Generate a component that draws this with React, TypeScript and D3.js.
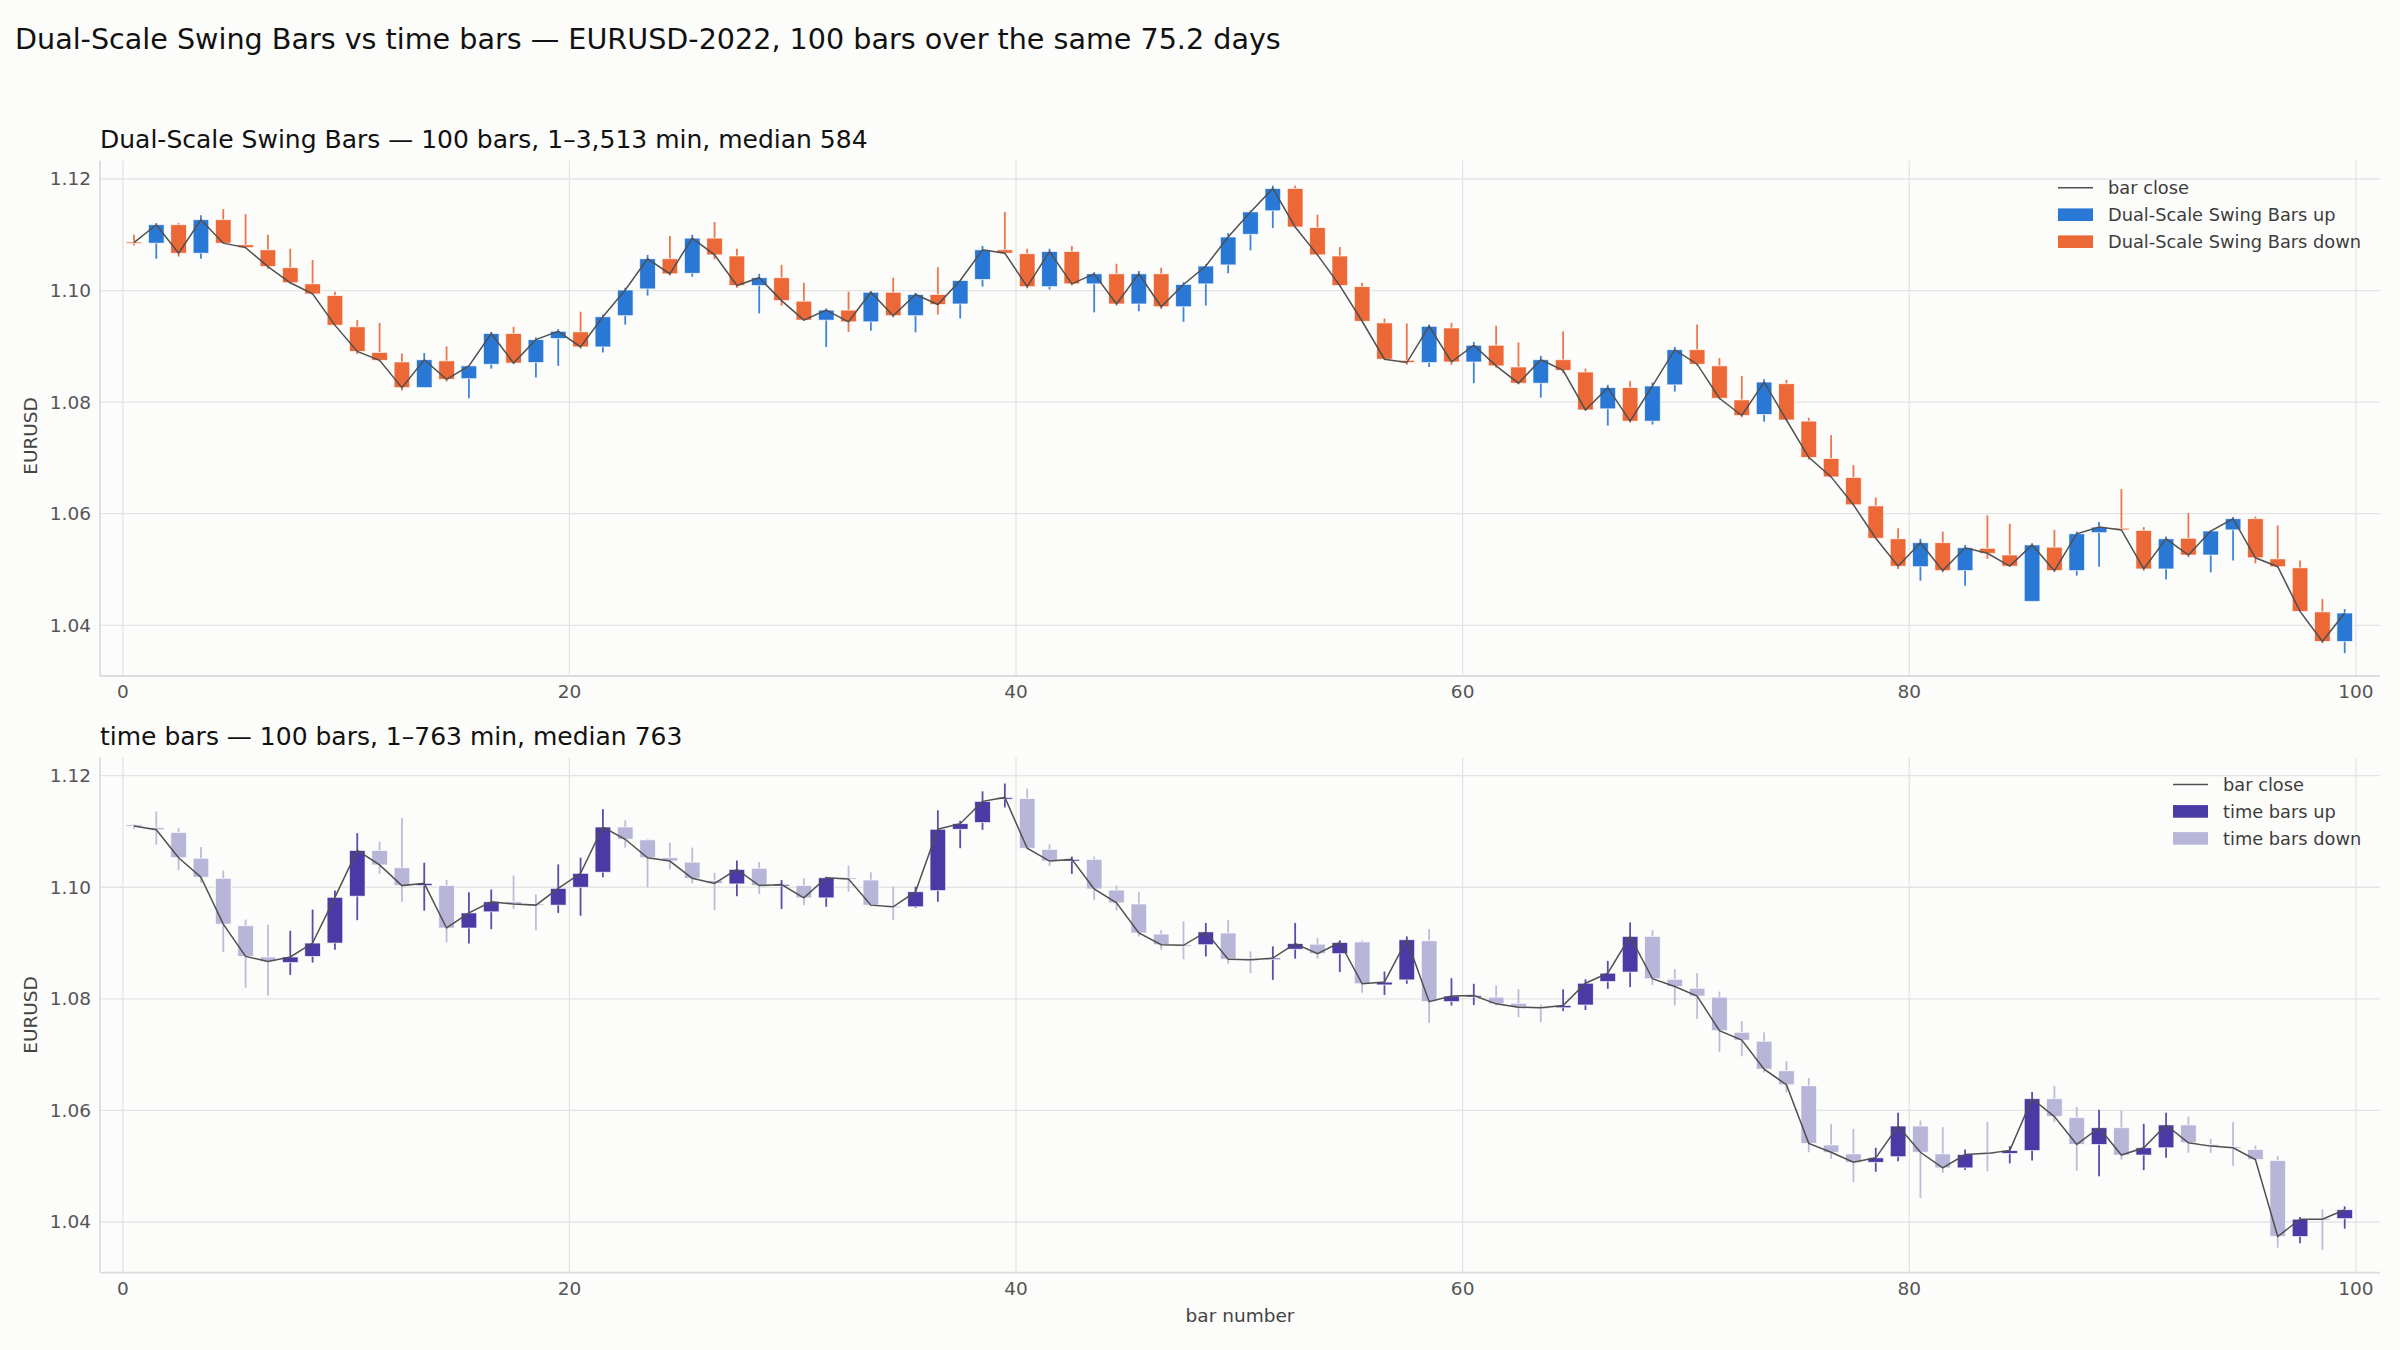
// App.tsx
// Dual-Scale Swing Bars vs time bars, two candlestick panels drawn with d3 scales
import React from "react"
import * as d3 from "d3"

// ---- data: Dual-Scale Swing Bars (100 bars) ----
const dssbOpen = [
    1.1087, 1.1085, 1.1118, 1.1067, 1.1127, 1.1082, 1.1073, 1.1041, 1.1012, 1.0991,
    1.0935, 1.0889, 1.0872, 1.0826, 1.0874, 1.0842, 1.0868, 1.0923, 1.0871, 1.0914,
    1.0926, 1.0899, 1.0955, 1.1003, 1.1057, 1.1031, 1.1094, 1.1062, 1.1009, 1.1023,
    1.0981, 1.0947, 1.0965, 1.0944, 1.0997, 1.0955, 1.0993, 1.0976, 1.1020, 1.1073,
    1.1066, 1.1007, 1.1070, 1.1012, 1.1030, 1.0976, 1.1030, 1.0971, 1.1012, 1.1046,
    1.1101, 1.1143, 1.1183, 1.1113, 1.1062, 1.1007, 1.0942, 1.0875, 1.0871, 1.0933,
    1.0872, 1.0902, 1.0863, 1.0834, 1.0876, 1.0854, 1.0788, 1.0826, 1.0766, 1.0831,
    1.0894, 1.0865, 1.0804, 1.0778, 1.0833, 1.0766, 1.0699, 1.0665, 1.0614, 1.0555,
    1.0505, 1.0548, 1.0498, 1.0538, 1.0526, 1.0443, 1.0540, 1.0498, 1.0566, 1.0574,
    1.0570, 1.0501, 1.0556, 1.0526, 1.0571, 1.0591, 1.0519, 1.0503, 1.0424, 1.0371,
]
const dssbHigh = [
    1.1100, 1.1121, 1.1121, 1.1135, 1.1146, 1.1137, 1.1100, 1.1075, 1.1055, 1.0998,
    1.0947, 1.0942, 1.0887, 1.0888, 1.0900, 1.0866, 1.0926, 1.0935, 1.0916, 1.0931,
    1.0962, 1.0957, 1.1005, 1.1064, 1.1098, 1.1100, 1.1123, 1.1075, 1.1030, 1.1046,
    1.1014, 1.0968, 1.0998, 1.0999, 1.1023, 1.0996, 1.1042, 1.1019, 1.1080, 1.1141,
    1.1075, 1.1075, 1.1080, 1.1033, 1.1048, 1.1035, 1.1041, 1.1015, 1.1047, 1.1103,
    1.1144, 1.1188, 1.1188, 1.1136, 1.1078, 1.1014, 1.0950, 1.0941, 1.0939, 1.0942,
    1.0908, 1.0937, 1.0907, 1.0883, 1.0927, 1.0860, 1.0831, 1.0838, 1.0835, 1.0899,
    1.0939, 1.0879, 1.0847, 1.0841, 1.0840, 1.0772, 1.0741, 1.0687, 1.0629, 1.0574,
    1.0555, 1.0568, 1.0544, 1.0597, 1.0582, 1.0547, 1.0571, 1.0568, 1.0585, 1.0644,
    1.0576, 1.0559, 1.0601, 1.0571, 1.0594, 1.0595, 1.0579, 1.0516, 1.0447, 1.0429,
]
const dssbLow = [
    1.1081, 1.1057, 1.1061, 1.1057, 1.1084, 1.1076, 1.1039, 1.1012, 1.0993, 1.0936,
    1.0886, 1.0873, 1.0821, 1.0826, 1.0837, 1.0807, 1.0860, 1.0868, 1.0844, 1.0865,
    1.0896, 1.0889, 1.0939, 1.0991, 1.1027, 1.1025, 1.1056, 1.1005, 1.0959, 1.0973,
    1.0946, 1.0899, 1.0926, 1.0928, 1.0952, 1.0925, 1.0957, 1.0950, 1.1007, 1.1065,
    1.1004, 1.1002, 1.1009, 1.0961, 1.0973, 1.0963, 1.0967, 1.0944, 1.0973, 1.1031,
    1.1072, 1.1112, 1.1113, 1.1063, 1.1007, 1.0944, 1.0876, 1.0867, 1.0863, 1.0867,
    1.0834, 1.0862, 1.0832, 1.0808, 1.0852, 1.0785, 1.0758, 1.0763, 1.0760, 1.0819,
    1.0865, 1.0805, 1.0773, 1.0765, 1.0766, 1.0697, 1.0664, 1.0615, 1.0555, 1.0501,
    1.0480, 1.0495, 1.0471, 1.0519, 1.0505, 1.0443, 1.0496, 1.0489, 1.0505, 1.0570,
    1.0498, 1.0482, 1.0522, 1.0495, 1.0516, 1.0511, 1.0504, 1.0424, 1.0368, 1.0350,
]
const dssbClose = [
    1.1086, 1.1118, 1.1067, 1.1127, 1.1085, 1.1077, 1.1043, 1.1014, 1.0994, 1.0938,
    1.0891, 1.0875, 1.0826, 1.0876, 1.0841, 1.0865, 1.0923, 1.0870, 1.0912, 1.0927,
    1.0899, 1.0953, 1.1001, 1.1057, 1.1030, 1.1094, 1.1064, 1.1009, 1.1023, 1.0982,
    1.0947, 1.0965, 1.0944, 1.0997, 1.0955, 1.0993, 1.0975, 1.1018, 1.1073, 1.1067,
    1.1007, 1.1070, 1.1012, 1.1030, 1.0976, 1.1030, 1.0971, 1.1011, 1.1044, 1.1096,
    1.1141, 1.1183, 1.1114, 1.1064, 1.1009, 1.0945, 1.0877, 1.0871, 1.0936, 1.0872,
    1.0902, 1.0865, 1.0834, 1.0876, 1.0857, 1.0786, 1.0826, 1.0766, 1.0829, 1.0894,
    1.0868, 1.0807, 1.0776, 1.0836, 1.0768, 1.0701, 1.0666, 1.0616, 1.0556, 1.0506,
    1.0548, 1.0498, 1.0539, 1.0529, 1.0506, 1.0544, 1.0498, 1.0564, 1.0576, 1.0571,
    1.0501, 1.0555, 1.0526, 1.0569, 1.0591, 1.0521, 1.0505, 1.0425, 1.0371, 1.0422,
]

// ---- data: time bars (100 bars) ----
const timeOpen = [
    1.1112, 1.1107, 1.1098, 1.1052, 1.1016, 1.0931, 1.0875, 1.0865, 1.0876, 1.0900,
    1.0984, 1.1066, 1.1035, 1.1003, 1.1003, 1.0927, 1.0956, 1.0974, 1.0970, 1.0968,
    1.1000, 1.1027, 1.1108, 1.1085, 1.1053, 1.1045, 1.1012, 1.1006, 1.1034, 1.1003,
    1.1003, 1.0981, 1.1017, 1.1013, 1.0966, 1.0965, 1.0994, 1.1104, 1.1116, 1.1158,
    1.1159, 1.1068, 1.1047, 1.1050, 1.0995, 1.0970, 1.0916, 1.0897, 1.0897, 1.0918,
    1.0871, 1.0871, 1.0889, 1.0898, 1.0881, 1.0902, 1.0825, 1.0834, 1.0904, 1.0795,
    1.0805, 1.0803, 1.0792, 1.0785, 1.0784, 1.0789, 1.0831, 1.0848, 1.0912, 1.0835,
    1.0819, 1.0803, 1.0740, 1.0724, 1.0671, 1.0644, 1.0538, 1.0522, 1.0507, 1.0517,
    1.0572, 1.0522, 1.0497, 1.0524, 1.0523, 1.0528, 1.0621, 1.0587, 1.0539, 1.0569,
    1.0520, 1.0533, 1.0574, 1.0539, 1.0535, 1.0530, 1.0510, 1.0374, 1.0406, 1.0406,
]
const timeHigh = [
    1.1114, 1.1136, 1.1106, 1.1072, 1.1030, 1.0942, 1.0933, 1.0922, 1.0960, 1.0994,
    1.1097, 1.1082, 1.1124, 1.1044, 1.1013, 1.0991, 1.0996, 1.1021, 1.0987, 1.1041,
    1.1053, 1.1140, 1.1120, 1.1087, 1.1080, 1.1071, 1.1026, 1.1048, 1.1045, 1.1013,
    1.1016, 1.1019, 1.1039, 1.1027, 1.1001, 1.1001, 1.1138, 1.1119, 1.1172, 1.1186,
    1.1177, 1.1077, 1.1055, 1.1055, 1.1003, 1.0991, 1.0923, 1.0939, 1.0936, 1.0941,
    1.0885, 1.0894, 1.0936, 1.0909, 1.0905, 1.0905, 1.0849, 1.0912, 1.0925, 1.0837,
    1.0827, 1.0824, 1.0817, 1.0790, 1.0817, 1.0835, 1.0868, 1.0937, 1.0923, 1.0853,
    1.0846, 1.0813, 1.0760, 1.0740, 1.0688, 1.0658, 1.0576, 1.0567, 1.0533, 1.0596,
    1.0582, 1.0570, 1.0530, 1.0579, 1.0536, 1.0633, 1.0644, 1.0606, 1.0601, 1.0600,
    1.0576, 1.0596, 1.0589, 1.0549, 1.0579, 1.0537, 1.0518, 1.0409, 1.0423, 1.0428,
]
const timeLow = [
    1.1105, 1.1076, 1.1031, 1.1008, 1.0884, 1.0820, 1.0806, 1.0843, 1.0865, 1.0888,
    1.0941, 1.1024, 1.0974, 1.0958, 1.0901, 1.0899, 1.0925, 1.0961, 1.0923, 1.0954,
    1.0949, 1.1018, 1.1071, 1.1000, 1.1032, 1.1007, 1.0959, 1.0984, 1.0988, 1.0961,
    1.0968, 1.0965, 1.0992, 1.0966, 1.0941, 1.0963, 1.0974, 1.1070, 1.1103, 1.1143,
    1.1068, 1.1038, 1.1024, 1.0977, 1.0958, 1.0912, 1.0888, 1.0871, 1.0876, 1.0863,
    1.0846, 1.0834, 1.0872, 1.0872, 1.0848, 1.0811, 1.0807, 1.0827, 1.0757, 1.0788,
    1.0789, 1.0788, 1.0767, 1.0758, 1.0778, 1.0780, 1.0818, 1.0821, 1.0825, 1.0788,
    1.0764, 1.0705, 1.0697, 1.0668, 1.0632, 1.0525, 1.0513, 1.0471, 1.0490, 1.0509,
    1.0443, 1.0488, 1.0493, 1.0491, 1.0505, 1.0510, 1.0579, 1.0492, 1.0482, 1.0512,
    1.0493, 1.0515, 1.0524, 1.0524, 1.0501, 1.0510, 1.0354, 1.0362, 1.0350, 1.0388,
]
const timeClose = [
    1.1110, 1.1103, 1.1053, 1.1018, 1.0934, 1.0876, 1.0867, 1.0875, 1.0900, 1.0982,
    1.1066, 1.1040, 1.1003, 1.1007, 1.0927, 1.0954, 1.0974, 1.0970, 1.0968, 1.0998,
    1.1025, 1.1108, 1.1086, 1.1053, 1.1047, 1.1016, 1.1007, 1.1032, 1.1003, 1.1005,
    1.0981, 1.1017, 1.1015, 1.0968, 1.0965, 1.0992, 1.1104, 1.1114, 1.1154, 1.1161,
    1.1070, 1.1047, 1.1050, 1.0997, 1.0972, 1.0918, 1.0897, 1.0896, 1.0920, 1.0871,
    1.0870, 1.0873, 1.0899, 1.0881, 1.0901, 1.0827, 1.0830, 1.0906, 1.0795, 1.0805,
    1.0806, 1.0791, 1.0785, 1.0784, 1.0788, 1.0828, 1.0846, 1.0912, 1.0836, 1.0822,
    1.0805, 1.0743, 1.0726, 1.0674, 1.0646, 1.0541, 1.0525, 1.0507, 1.0515, 1.0572,
    1.0525, 1.0497, 1.0521, 1.0523, 1.0528, 1.0621, 1.0589, 1.0539, 1.0569, 1.0520,
    1.0533, 1.0574, 1.0542, 1.0536, 1.0533, 1.0512, 1.0374, 1.0405, 1.0405, 1.0422,
]

const xTicks = [0, 20, 40, 60, 80, 100]
const yTicks = [1.04, 1.06, 1.08, 1.1, 1.12]

const W = 2400
const H = 1350
const PLOT_L = 100
const PLOT_R = 2380
const X_DOMAIN: [number, number] = [-1.02, 101.08]
const Y_DOMAIN: [number, number] = [1.03091, 1.12328]
const FONT = "DejaVu Sans, Liberation Sans, sans-serif"
const BG = "#fcfcfa"

interface PanelSpec {
    top: number
    bottom: number
    title: string
    name: string
    open: number[]
    high: number[]
    low: number[]
    close: number[]
    upColor: string
    downColor: string
    legendX: number
    yLabelY: number
    showXLabel: boolean
}

const panels: PanelSpec[] = [
    {
        top: 160.7,
        bottom: 676,
        title: "Dual-Scale Swing Bars — 100 bars, 1–3,513 min, median 584",
        name: "Dual-Scale Swing Bars",
        open: dssbOpen,
        high: dssbHigh,
        low: dssbLow,
        close: dssbClose,
        upColor: "#2a78d6",
        downColor: "#ec6837",
        legendX: 2058,
        yLabelY: 436,
        showXLabel: false,
    },
    {
        top: 757.4,
        bottom: 1272.7,
        title: "time bars — 100 bars, 1–763 min, median 763",
        name: "time bars",
        open: timeOpen,
        high: timeHigh,
        low: timeLow,
        close: timeClose,
        upColor: "#4a3aa6",
        downColor: "#b8b6d8",
        legendX: 2173,
        yLabelY: 1015,
        showXLabel: true,
    },
]

const Panel: React.FC<{ p: PanelSpec }> = ({ p }) => {
    const x = d3.scaleLinear().domain(X_DOMAIN).range([PLOT_L, PLOT_R])
    const y = d3.scaleLinear().domain(Y_DOMAIN).range([p.bottom, p.top])
    const bodyW = x(0.35) - x(-0.35)
    const closeLine = d3
        .line<number>()
        .x((_, i) => x(i + 0.5))
        .y((d) => y(d))

    const rowY = (k: number) => p.top + 27 * (k + 1)

    return (
        <g>
            {/* grid */}
            {yTicks.map((t) => (
                <line key={"gy" + t} x1={PLOT_L} x2={PLOT_R} y1={y(t)} y2={y(t)} stroke="#e4e4e4" strokeWidth={1.3} />
            ))}
            {xTicks.map((t) => (
                <line key={"gx" + t} x1={x(t)} x2={x(t)} y1={p.top} y2={p.bottom} stroke="#e4e4e4" strokeWidth={1.3} />
            ))}
            {/* spines */}
            <line x1={PLOT_L} x2={PLOT_L} y1={p.top} y2={p.bottom} stroke="#dcdcdc" strokeWidth={1.8} />
            <line x1={PLOT_L} x2={PLOT_R} y1={p.bottom} y2={p.bottom} stroke="#dcdcdc" strokeWidth={1.8} />

            {/* tick labels */}
            {yTicks.map((t) => (
                <text key={"ty" + t} x={91} y={y(t)} textAnchor="end" dominantBaseline="central" fontSize={18.5} fill="#555">
                    {d3.format(".2f")(t)}
                </text>
            ))}
            {xTicks.map((t) => (
                <text key={"tx" + t} x={x(t)} y={p.bottom + 22} textAnchor="middle" fontSize={18.5} fill="#555">
                    {t}
                </text>
            ))}

            {/* candles */}
            {p.close.map((c, i) => {
                const o = p.open[i]
                const col = c >= o ? p.upColor : p.downColor
                const cx = x(i + 0.5)
                const yTop = y(Math.max(o, c))
                const h = Math.max(Math.abs(y(o) - y(c)), 1.5)
                return (
                    <g key={i}>
                        <line x1={cx} x2={cx} y1={y(p.high[i])} y2={y(p.low[i])} stroke={col} strokeWidth={1.8} opacity={0.9} />
                        <rect x={cx - bodyW / 2} y={yTop} width={bodyW} height={h} fill={col} stroke="#ffffff" strokeWidth={0.8} strokeOpacity={0.8} />
                    </g>
                )
            })}
            <path d={closeLine(p.close) || ""} fill="none" stroke="#505050" strokeWidth={1.5} />

            {/* titles */}
            <text x={PLOT_L} y={p.top - 12.5} fontSize={25} fill="#111">
                {p.title}
            </text>
            <text
                transform={`translate(30.6, ${p.yLabelY}) rotate(-90)`}
                textAnchor="middle"
                dominantBaseline="central"
                fontSize={18.5}
                fill="#444"
            >
                EURUSD
            </text>
            {p.showXLabel && (
                <text x={(PLOT_L + PLOT_R) / 2} y={p.bottom + 49} textAnchor="middle" fontSize={18.5} fill="#444">
                    bar number
                </text>
            )}

            {/* legend */}
            <line x1={p.legendX} x2={p.legendX + 35} y1={rowY(0)} y2={rowY(0)} stroke="#505050" strokeWidth={1.5} />
            <rect x={p.legendX} y={rowY(1) - 6.3} width={35} height={12.6} fill={p.upColor} />
            <rect x={p.legendX} y={rowY(2) - 6.3} width={35} height={12.6} fill={p.downColor} />
            {["bar close", p.name + " up", p.name + " down"].map((s, k) => (
                <text key={s} x={p.legendX + 50} y={rowY(k)} dominantBaseline="central" fontSize={17.8} fill="#3d3d3d">
                    {s}
                </text>
            ))}
        </g>
    )
}

export default function App() {
    return (
        <svg
            width={W}
            height={H}
            viewBox={`0 0 ${W} ${H}`}
            style={{ position: "absolute", left: 0, top: 0, fontFamily: FONT }}
        >
            <rect width={W} height={H} fill={BG} />
            <text x={15} y={48.6} fontSize={28.6} fill="#111">
                Dual-Scale Swing Bars vs time bars — EURUSD-2022, 100 bars over the same 75.2 days
            </text>
            {panels.map((p) => (
                <Panel key={p.name} p={p} />
            ))}
        </svg>
    )
}
